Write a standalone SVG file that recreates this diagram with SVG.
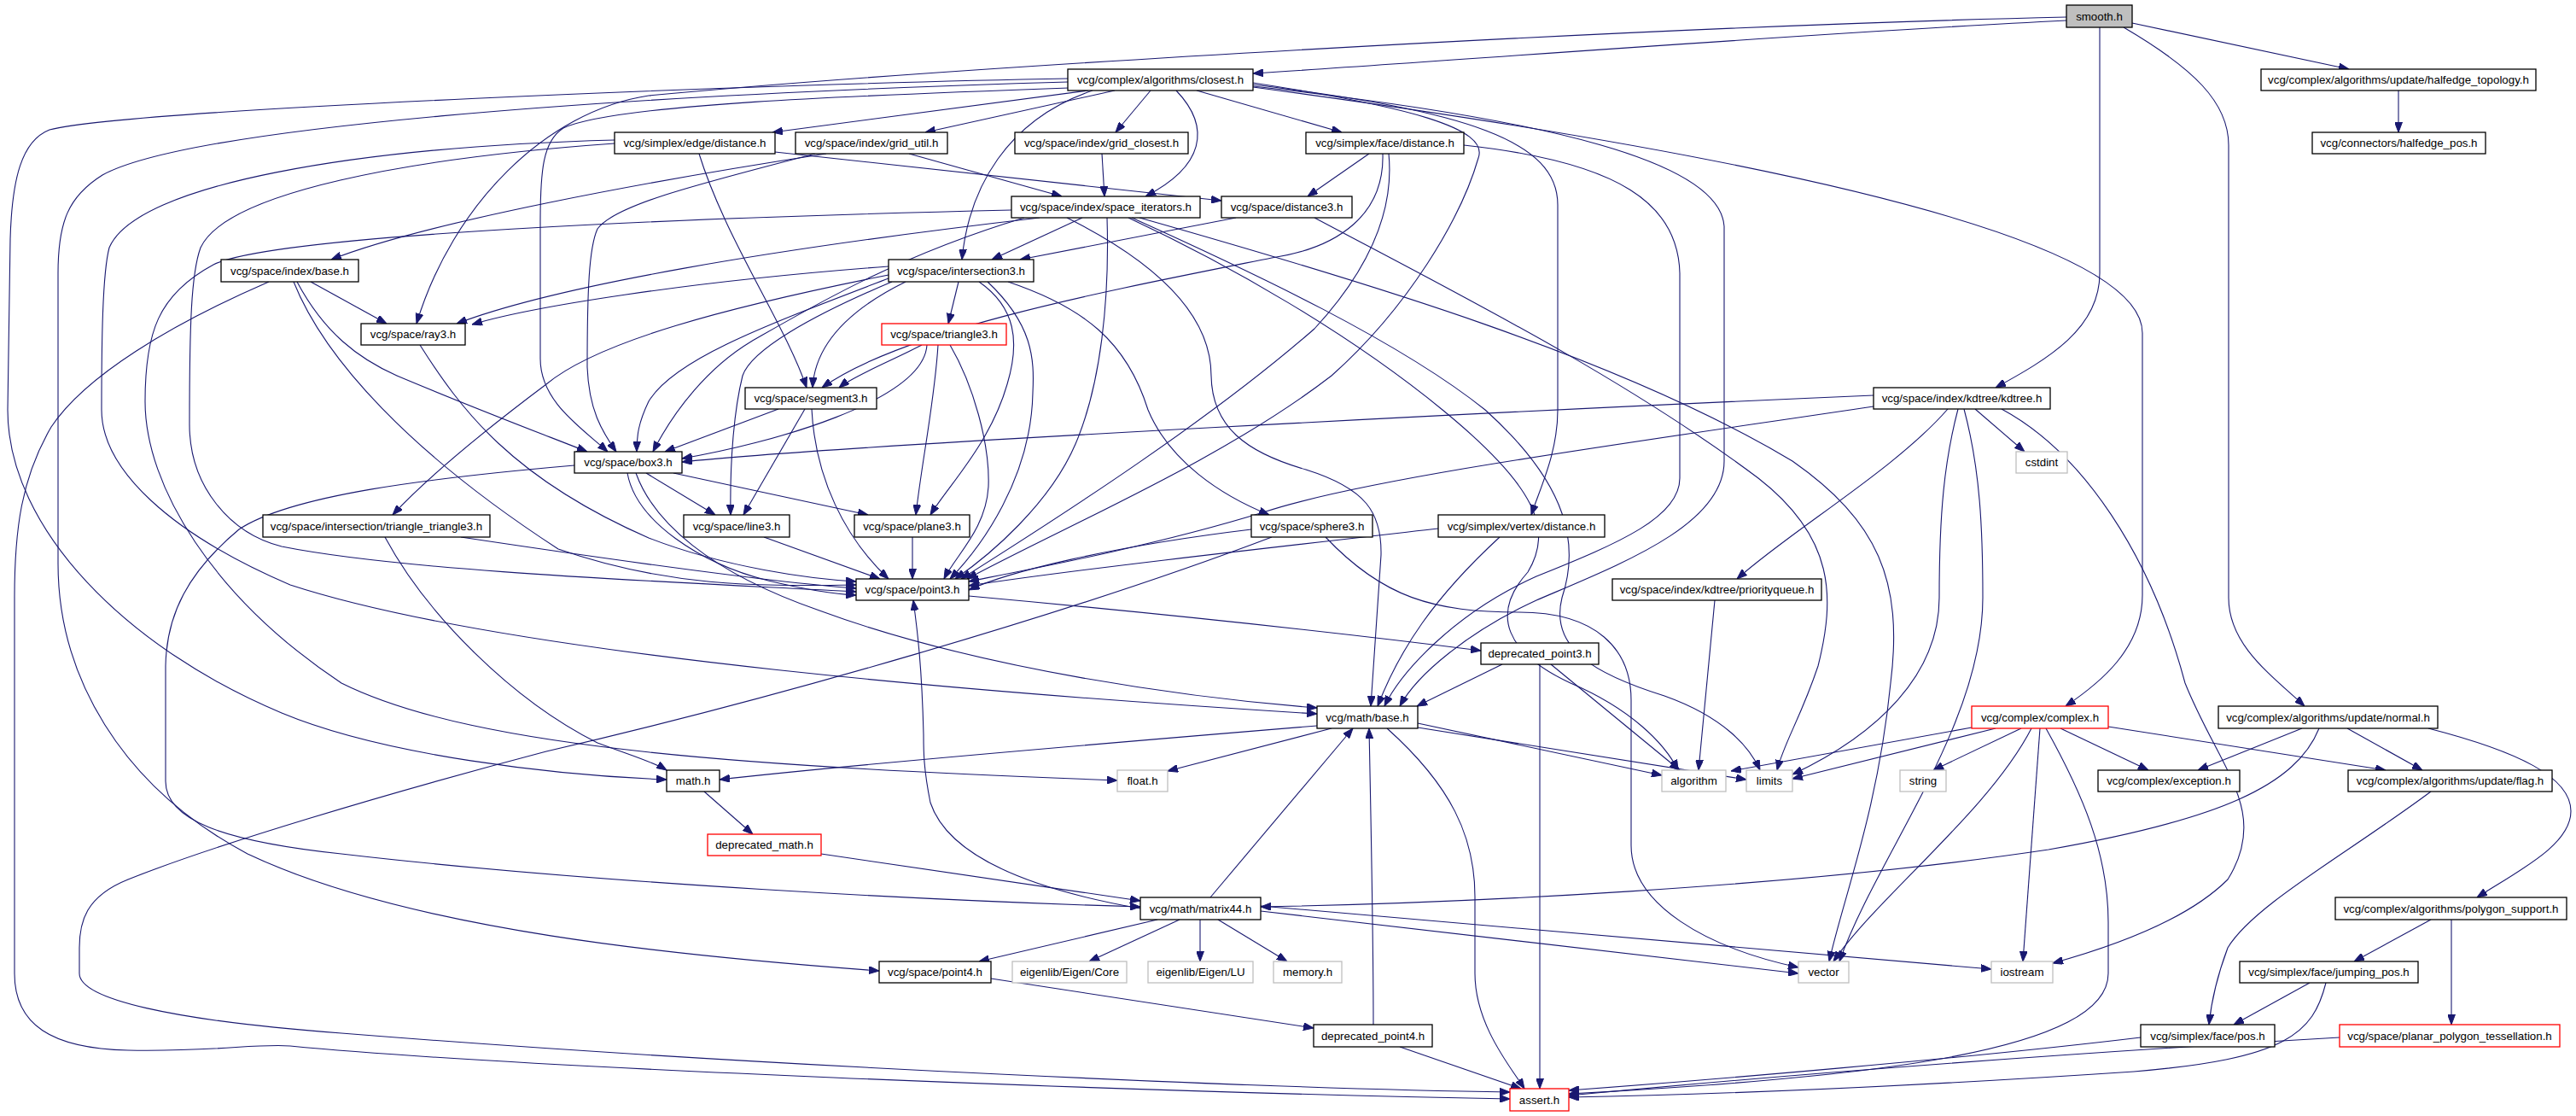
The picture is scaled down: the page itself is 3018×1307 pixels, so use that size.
<svg xmlns="http://www.w3.org/2000/svg" width="3018" height="1307" viewBox="0 0 3018 1307">
<defs>
<marker id="a" markerWidth="12" markerHeight="9" refX="12" refY="4.5" orient="auto" markerUnits="userSpaceOnUse"><path d="M0,0 L12,4.5 L0,9 z" fill="#191970" stroke="#191970" stroke-width="1"/></marker>
<style>
.e path{fill:none;stroke:#191970;stroke-width:1.1;marker-end:url(#a)}
.n rect{fill:#fff;stroke:#000;stroke-width:1.3}
.g rect{fill:#fff;stroke:#bfbfbf;stroke-width:1.3}
.r rect{fill:#fff;stroke:#ff0000;stroke-width:1.3}
.s rect{fill:#bfbfbf;stroke:#000;stroke-width:1.3}
text{font-family:"Liberation Sans",Arial,Helvetica,sans-serif;font-size:13.3px;text-anchor:middle;fill:#000}
</style>
</defs>
<rect width="3018" height="1307" fill="#fff"/>
<g id="edges" class="e">
<path d="M2421,24 C2100,40 1750,68 1468,86"/>
<path d="M2421,20 C1900,32 1100,80 760,112 C640,130 530,240 488,379"/>
<path d="M2498,27 L2752,81"/>
<path d="M2460,32 L2460,320 C2460,385 2400,420 2338,454"/>
<path d="M2488,32 C2570,80 2611,120 2611,170 L2611,700 C2611,755 2660,790 2700,827"/>
<path d="M2810,106 L2810,155"/>
<path d="M1275,106 L905,155"/>
<path d="M1306,106 L1084,155"/>
<path d="M1348,106 L1307,155"/>
<path d="M1402,106 L1572,155"/>
<path d="M1378,106 C1420,150 1410,195 1342,230"/>
<path d="M1280,106 C1180,140 1135,220 1127,304"/>
<path d="M1252,103 C1000,112 720,122 660,150 C636,165 633,200 633,260 L633,420 C633,470 680,500 712,529"/>
<path d="M1251,92 C900,98 150,128 58,152 C25,165 14,210 12,280 L9,480 C9,620 150,760 330,835 C450,885 650,908 781,913"/>
<path d="M1251,96 C700,112 220,150 120,205 C80,230 68,260 68,320 L68,660 C68,790 140,920 290,1000 C480,1090 800,1120 1030,1137"/>
<path d="M1468,97 C1650,125 1745,150 1732,185 C1712,255 1650,360 1560,440 C1430,540 1250,615 1133,678"/>
<path d="M1468,99 C1720,130 1825,165 1825,240 L1825,480 C1825,530 1805,570 1794,603"/>
<path d="M1468,101 C1820,140 2015,190 2020,265 L2020,540 C2020,615 1900,660 1800,703 C1720,740 1660,790 1640,827"/>
<path d="M1468,102 C1900,160 2510,260 2510,390 L2510,697 C2510,760 2460,800 2420,827"/>
<path d="M908,178 L1431,235"/>
<path d="M819,180 C850,280 920,380 945,454"/>
<path d="M720,168 C480,185 265,225 235,290 C224,320 222,380 222,497 C222,570 270,625 330,640 C480,670 800,682 1003,693"/>
<path d="M720,164 C420,172 160,215 128,290 C120,320 119,400 119,480 C119,550 200,625 340,685 C600,770 1200,815 1543,836"/>
<path d="M1065,180 L1244,230"/>
<path d="M968,180 C760,212 500,260 388,304"/>
<path d="M955,180 C820,215 720,240 700,268 C690,290 688,340 688,430 C690,480 705,505 722,529"/>
<path d="M1291,180 L1294,230"/>
<path d="M1604,180 L1532,230"/>
<path d="M1620,180 C1622,250 1570,290 1490,302 C1300,340 1060,385 963,454"/>
<path d="M1627,180 C1634,250 1600,320 1540,385 C1420,490 1250,600 1126,678"/>
<path d="M1715,170 C1900,190 1966,240 1968,320 L1968,560 C1968,605 1900,635 1800,675 C1700,720 1640,790 1622,827"/>
<path d="M1268,255 L1162,304"/>
<path d="M1218,255 C900,292 650,335 535,379"/>
<path d="M1185,246 C800,255 320,275 250,310 C185,345 170,390 170,470 C170,570 250,700 400,800 C560,880 900,898 1309,914"/>
<path d="M1297,255 C1300,350 1290,450 1260,520 C1230,590 1160,650 1119,678"/>
<path d="M1250,255 C1340,300 1419,360 1419,440 C1420,500 1460,530 1530,550 C1600,572 1619,600 1618,650 L1606,827"/>
<path d="M1335,255 C1600,330 1900,420 2100,540 C2200,610 2230,680 2215,800 C2200,950 2160,1050 2143,1126"/>
<path d="M1322,255 C1440,310 1580,390 1690,480 C1800,570 1820,620 1790,670 C1745,720 1765,765 1840,800 C1910,830 1950,870 1966,902"/>
<path d="M1326,255 C1470,320 1640,400 1740,480 C1840,570 1850,640 1830,700 C1815,760 1870,790 1950,815 C2020,840 2050,875 2062,902"/>
<path d="M1200,255 C1050,300 950,360 880,400 C830,430 790,480 765,529"/>
<path d="M1448,255 L1195,304"/>
<path d="M1540,255 C1700,340 1900,440 2060,560 C2150,630 2150,700 2130,780 C2110,840 2090,870 2082,902"/>
<path d="M315,330 C200,380 100,440 60,500 C25,560 17,620 17,700 L17,1140 C17,1200 60,1228 150,1230 C250,1232 300,1222 340,1225 C600,1250 1300,1278 1769,1287"/>
<path d="M364,330 L453,379"/>
<path d="M348,330 C380,390 420,420 465,440 C560,480 640,510 688,529"/>
<path d="M344,330 C380,420 480,530 654,643 C790,690 900,686 1003,685"/>
<path d="M1041,312 C800,330 620,360 553,380"/>
<path d="M1123,330 L1111,379"/>
<path d="M1061,330 C1000,360 955,400 952,454"/>
<path d="M1045,330 C950,370 880,410 870,440 C860,480 855,540 856,603"/>
<path d="M1041,326 C900,380 790,420 760,470 C748,495 746,510 746,529"/>
<path d="M1041,322 C850,360 700,400 640,450 C560,510 500,560 460,603"/>
<path d="M1147,330 C1190,360 1195,400 1180,450 C1160,520 1110,570 1090,603"/>
<path d="M1157,330 C1210,380 1212,420 1210,460 C1208,560 1150,640 1113,678"/>
<path d="M1181,330 C1270,360 1320,400 1345,480 C1370,540 1430,580 1487,603"/>
<path d="M1080,404 C1050,420 1000,440 983,454"/>
<path d="M1086,404 C1082,470 900,520 799,537"/>
<path d="M1099,404 C1095,470 1080,540 1073,603"/>
<path d="M1113,404 C1140,450 1160,520 1158,570 C1155,620 1120,650 1106,678"/>
<path d="M912,479 L779,529"/>
<path d="M943,479 L871,603"/>
<path d="M951,479 C955,560 990,630 1041,678"/>
<path d="M757,554 L838,603"/>
<path d="M789,554 L1017,603"/>
<path d="M735,554 C745,610 820,660 900,680 C950,692 980,696 1003,697"/>
<path d="M745,554 C765,610 830,670 960,715 C1150,785 1400,818 1543,829"/>
<path d="M673,545 C500,560 340,580 280,620 C220,670 195,720 194,780 L194,915 C194,960 260,985 400,1000 C700,1035 1100,1055 1336,1062"/>
<path d="M895,629 L1031,678"/>
<path d="M1069,629 L1069,678"/>
<path d="M492,404 C540,480 600,560 760,630 C850,665 950,678 1003,681"/>
<path d="M540,629 C680,650 900,682 1003,689"/>
<path d="M451,629 C500,720 600,820 700,870 C740,885 765,892 781,902"/>
<path d="M1466,620 C1300,640 1180,670 1135,691"/>
<path d="M1553,629 C1620,700 1680,717 1780,717 C1870,717 1911,760 1911,820 L1911,990 C1911,1060 2000,1110 2107,1133"/>
<path d="M1490,629 C1250,720 900,820 640,880 C450,930 250,990 150,1030 C100,1050 93,1080 93,1110 L93,1140 C93,1170 200,1195 400,1210 C900,1250 1500,1275 1769,1279"/>
<path d="M1685,619 C1500,640 1250,668 1135,686"/>
<path d="M1757,629 C1680,700 1640,760 1614,827"/>
<path d="M2195,463 C1800,480 1000,520 799,541"/>
<path d="M2195,476 C1900,520 1600,560 1480,600 C1350,640 1200,668 1135,681"/>
<path d="M2282,479 C2220,550 2100,620 2035,678"/>
<path d="M2314,479 L2372,529"/>
<path d="M2294,479 C2278,540 2272,600 2272,700 C2272,790 2200,860 2100,907"/>
<path d="M2301,479 C2320,550 2323,620 2323,700 C2323,850 2200,1000 2155,1126"/>
<path d="M2345,479 C2440,530 2520,650 2560,800 C2600,900 2660,950 2610,1030 C2560,1080 2470,1110 2405,1128"/>
<path d="M2009,703 L1990,902"/>
<path d="M1135,698 C1400,722 1600,745 1735,762"/>
<path d="M1760,778 L1660,827"/>
<path d="M1804,778 L1804,1275"/>
<path d="M1817,778 L1968,902"/>
<path d="M1543,850 C1300,870 1000,895 843,913"/>
<path d="M1560,853 L1368,903"/>
<path d="M1661,847 L1947,908"/>
<path d="M1661,852 L2046,913"/>
<path d="M1625,853 C1700,920 1728,980 1728,1050 L1728,1140 C1728,1200 1770,1250 1786,1275"/>
<path d="M825,927 L882,977"/>
<path d="M962,1000 L1336,1055"/>
<path d="M1418,1051 L1585,853"/>
<path d="M1336,1064 C1200,1040 1110,1000 1090,940 C1082,900 1082,880 1082,860 C1080,780 1075,740 1070,703"/>
<path d="M1356,1077 L1147,1126"/>
<path d="M1382,1077 L1276,1126"/>
<path d="M1406,1077 L1406,1126"/>
<path d="M1427,1077 L1508,1126"/>
<path d="M1477,1067 L2107,1140"/>
<path d="M1477,1061 L2333,1135"/>
<path d="M1161,1146 L1539,1204"/>
<path d="M1609,1200 C1609,1100 1606,950 1604,853"/>
<path d="M1640,1226 L1782,1275"/>
<path d="M2310,852 L2028,903"/>
<path d="M2338,853 L2100,912"/>
<path d="M2368,853 L2265,902"/>
<path d="M2380,853 C2330,950 2200,1050 2148,1126"/>
<path d="M2390,853 L2370,1126"/>
<path d="M2397,853 C2440,930 2470,1000 2470,1080 L2470,1140 C2470,1230 2200,1262 1838,1281"/>
<path d="M2414,853 L2517,902"/>
<path d="M2470,851 L2795,902"/>
<path d="M2697,853 L2575,902"/>
<path d="M2750,853 L2838,902"/>
<path d="M2845,853 C2950,880 3012,910 3012,950 C3012,990 2950,1020 2902,1051"/>
<path d="M2717,853 C2690,920 2600,960 2400,995 C2100,1040 1700,1058 1477,1062"/>
<path d="M2848,927 C2750,1000 2640,1060 2610,1110 C2595,1150 2590,1180 2588,1200"/>
<path d="M2848,1077 L2758,1126"/>
<path d="M2872,1077 L2872,1200"/>
<path d="M2706,1151 L2617,1200"/>
<path d="M2725,1151 C2710,1210 2680,1240 2500,1255 C2200,1275 2000,1282 1838,1285"/>
<path d="M2508,1215 C2300,1240 2000,1265 1838,1277"/>
<path d="M2741,1215 C2400,1235 2100,1258 1838,1283"/>
</g>
<g id="smooth" class="s"><rect x="2421" y="6" width="77" height="26"/><text x="2459.5" y="23.5">smooth.h</text></g>
<g id="closest" class="n"><rect x="1251" y="81" width="217" height="25"/><text x="1359.5" y="98">vcg/complex/algorithms/closest.h</text></g>
<g id="halfedge_topology" class="n"><rect x="2649" y="81" width="322" height="25"/><text x="2810" y="98">vcg/complex/algorithms/update/halfedge_topology.h</text></g>
<g id="edge_distance" class="n"><rect x="720" y="155" width="188" height="25"/><text x="814" y="172">vcg/simplex/edge/distance.h</text></g>
<g id="grid_util" class="n"><rect x="932" y="155" width="178" height="25"/><text x="1021" y="172">vcg/space/index/grid_util.h</text></g>
<g id="grid_closest" class="n"><rect x="1189" y="155" width="203" height="25"/><text x="1290.5" y="172">vcg/space/index/grid_closest.h</text></g>
<g id="face_distance" class="n"><rect x="1530" y="155" width="185" height="25"/><text x="1622.5" y="172">vcg/simplex/face/distance.h</text></g>
<g id="halfedge_pos" class="n"><rect x="2709" y="155" width="203" height="25"/><text x="2810.5" y="172">vcg/connectors/halfedge_pos.h</text></g>
<g id="space_iterators" class="n"><rect x="1185" y="230" width="221" height="25"/><text x="1295.5" y="247">vcg/space/index/space_iterators.h</text></g>
<g id="distance3" class="n"><rect x="1431" y="230" width="153" height="25"/><text x="1507.5" y="247">vcg/space/distance3.h</text></g>
<g id="index_base" class="n"><rect x="259" y="304" width="161" height="26"/><text x="339.5" y="321.5">vcg/space/index/base.h</text></g>
<g id="intersection3" class="n"><rect x="1041" y="304" width="170" height="26"/><text x="1126" y="321.5">vcg/space/intersection3.h</text></g>
<g id="ray3" class="n"><rect x="423" y="379" width="122" height="25"/><text x="484" y="396">vcg/space/ray3.h</text></g>
<g id="triangle3" class="r"><rect x="1033" y="379" width="146" height="25"/><text x="1106" y="396">vcg/space/triangle3.h</text></g>
<g id="segment3" class="n"><rect x="873" y="454" width="154" height="25"/><text x="950" y="471">vcg/space/segment3.h</text></g>
<g id="kdtree" class="n"><rect x="2195" y="454" width="207" height="25"/><text x="2298.5" y="471">vcg/space/index/kdtree/kdtree.h</text></g>
<g id="box3" class="n"><rect x="673" y="529" width="126" height="25"/><text x="736" y="546">vcg/space/box3.h</text></g>
<g id="cstdint" class="g"><rect x="2362" y="529" width="60" height="25"/><text x="2392" y="546">cstdint</text></g>
<g id="triangle_triangle3" class="n"><rect x="308" y="603" width="266" height="26"/><text x="441" y="620.5">vcg/space/intersection/triangle_triangle3.h</text></g>
<g id="line3" class="n"><rect x="801" y="603" width="124" height="26"/><text x="863" y="620.5">vcg/space/line3.h</text></g>
<g id="plane3" class="n"><rect x="1001" y="603" width="135" height="26"/><text x="1068.5" y="620.5">vcg/space/plane3.h</text></g>
<g id="sphere3" class="n"><rect x="1466" y="603" width="142" height="26"/><text x="1537" y="620.5">vcg/space/sphere3.h</text></g>
<g id="vertex_distance" class="n"><rect x="1685" y="603" width="195" height="26"/><text x="1782.5" y="620.5">vcg/simplex/vertex/distance.h</text></g>
<g id="point3" class="n"><rect x="1003" y="678" width="132" height="25"/><text x="1069" y="695">vcg/space/point3.h</text></g>
<g id="priorityqueue" class="n"><rect x="1889" y="678" width="245" height="25"/><text x="2011.5" y="695">vcg/space/index/kdtree/priorityqueue.h</text></g>
<g id="deprecated_point3" class="n"><rect x="1735" y="753" width="138" height="25"/><text x="1804" y="770">deprecated_point3.h</text></g>
<g id="math_base" class="n"><rect x="1543" y="827" width="118" height="26"/><text x="1602" y="844.5">vcg/math/base.h</text></g>
<g id="complex" class="r"><rect x="2310" y="827" width="160" height="26"/><text x="2390" y="844.5">vcg/complex/complex.h</text></g>
<g id="normal" class="n"><rect x="2599" y="827" width="257" height="26"/><text x="2727.5" y="844.5">vcg/complex/algorithms/update/normal.h</text></g>
<g id="math_h" class="n"><rect x="781" y="902" width="62" height="25"/><text x="812" y="919">math.h</text></g>
<g id="float_h" class="g"><rect x="1309" y="902" width="59" height="25"/><text x="1338.5" y="919">float.h</text></g>
<g id="algorithm" class="g"><rect x="1947" y="902" width="75" height="25"/><text x="1984.5" y="919">algorithm</text></g>
<g id="limits" class="g"><rect x="2046" y="902" width="54" height="25"/><text x="2073" y="919">limits</text></g>
<g id="string" class="g"><rect x="2226" y="902" width="54" height="25"/><text x="2253" y="919">string</text></g>
<g id="exception" class="n"><rect x="2458" y="902" width="166" height="25"/><text x="2541" y="919">vcg/complex/exception.h</text></g>
<g id="flag" class="n"><rect x="2751" y="902" width="239" height="25"/><text x="2870.5" y="919">vcg/complex/algorithms/update/flag.h</text></g>
<g id="deprecated_math" class="r"><rect x="829" y="977" width="133" height="25"/><text x="895.5" y="994">deprecated_math.h</text></g>
<g id="matrix44" class="n"><rect x="1336" y="1051" width="141" height="26"/><text x="1406.5" y="1068.5">vcg/math/matrix44.h</text></g>
<g id="polygon_support" class="n"><rect x="2736" y="1051" width="271" height="26"/><text x="2871.5" y="1068.5">vcg/complex/algorithms/polygon_support.h</text></g>
<g id="point4" class="n"><rect x="1030" y="1126" width="131" height="25"/><text x="1095.5" y="1143">vcg/space/point4.h</text></g>
<g id="eigen_core" class="g"><rect x="1186" y="1126" width="134" height="25"/><text x="1253" y="1143">eigenlib/Eigen/Core</text></g>
<g id="eigen_lu" class="g"><rect x="1345" y="1126" width="123" height="25"/><text x="1406.5" y="1143">eigenlib/Eigen/LU</text></g>
<g id="memory" class="g"><rect x="1492" y="1126" width="80" height="25"/><text x="1532" y="1143">memory.h</text></g>
<g id="vector" class="g"><rect x="2107" y="1126" width="59" height="25"/><text x="2136.5" y="1143">vector</text></g>
<g id="iostream" class="g"><rect x="2333" y="1126" width="72" height="25"/><text x="2369" y="1143">iostream</text></g>
<g id="jumping_pos" class="n"><rect x="2624" y="1126" width="209" height="25"/><text x="2728.5" y="1143">vcg/simplex/face/jumping_pos.h</text></g>
<g id="deprecated_point4" class="n"><rect x="1539" y="1200" width="139" height="26"/><text x="1608.5" y="1217.5">deprecated_point4.h</text></g>
<g id="face_pos" class="n"><rect x="2508" y="1200" width="157" height="26"/><text x="2586.5" y="1217.5">vcg/simplex/face/pos.h</text></g>
<g id="planar_tess" class="r"><rect x="2741" y="1200" width="258" height="26"/><text x="2870" y="1217.5">vcg/space/planar_polygon_tessellation.h</text></g>
<g id="assert" class="r"><rect x="1769" y="1275" width="69" height="26"/><text x="1803.5" y="1292.5">assert.h</text></g>
</svg>
